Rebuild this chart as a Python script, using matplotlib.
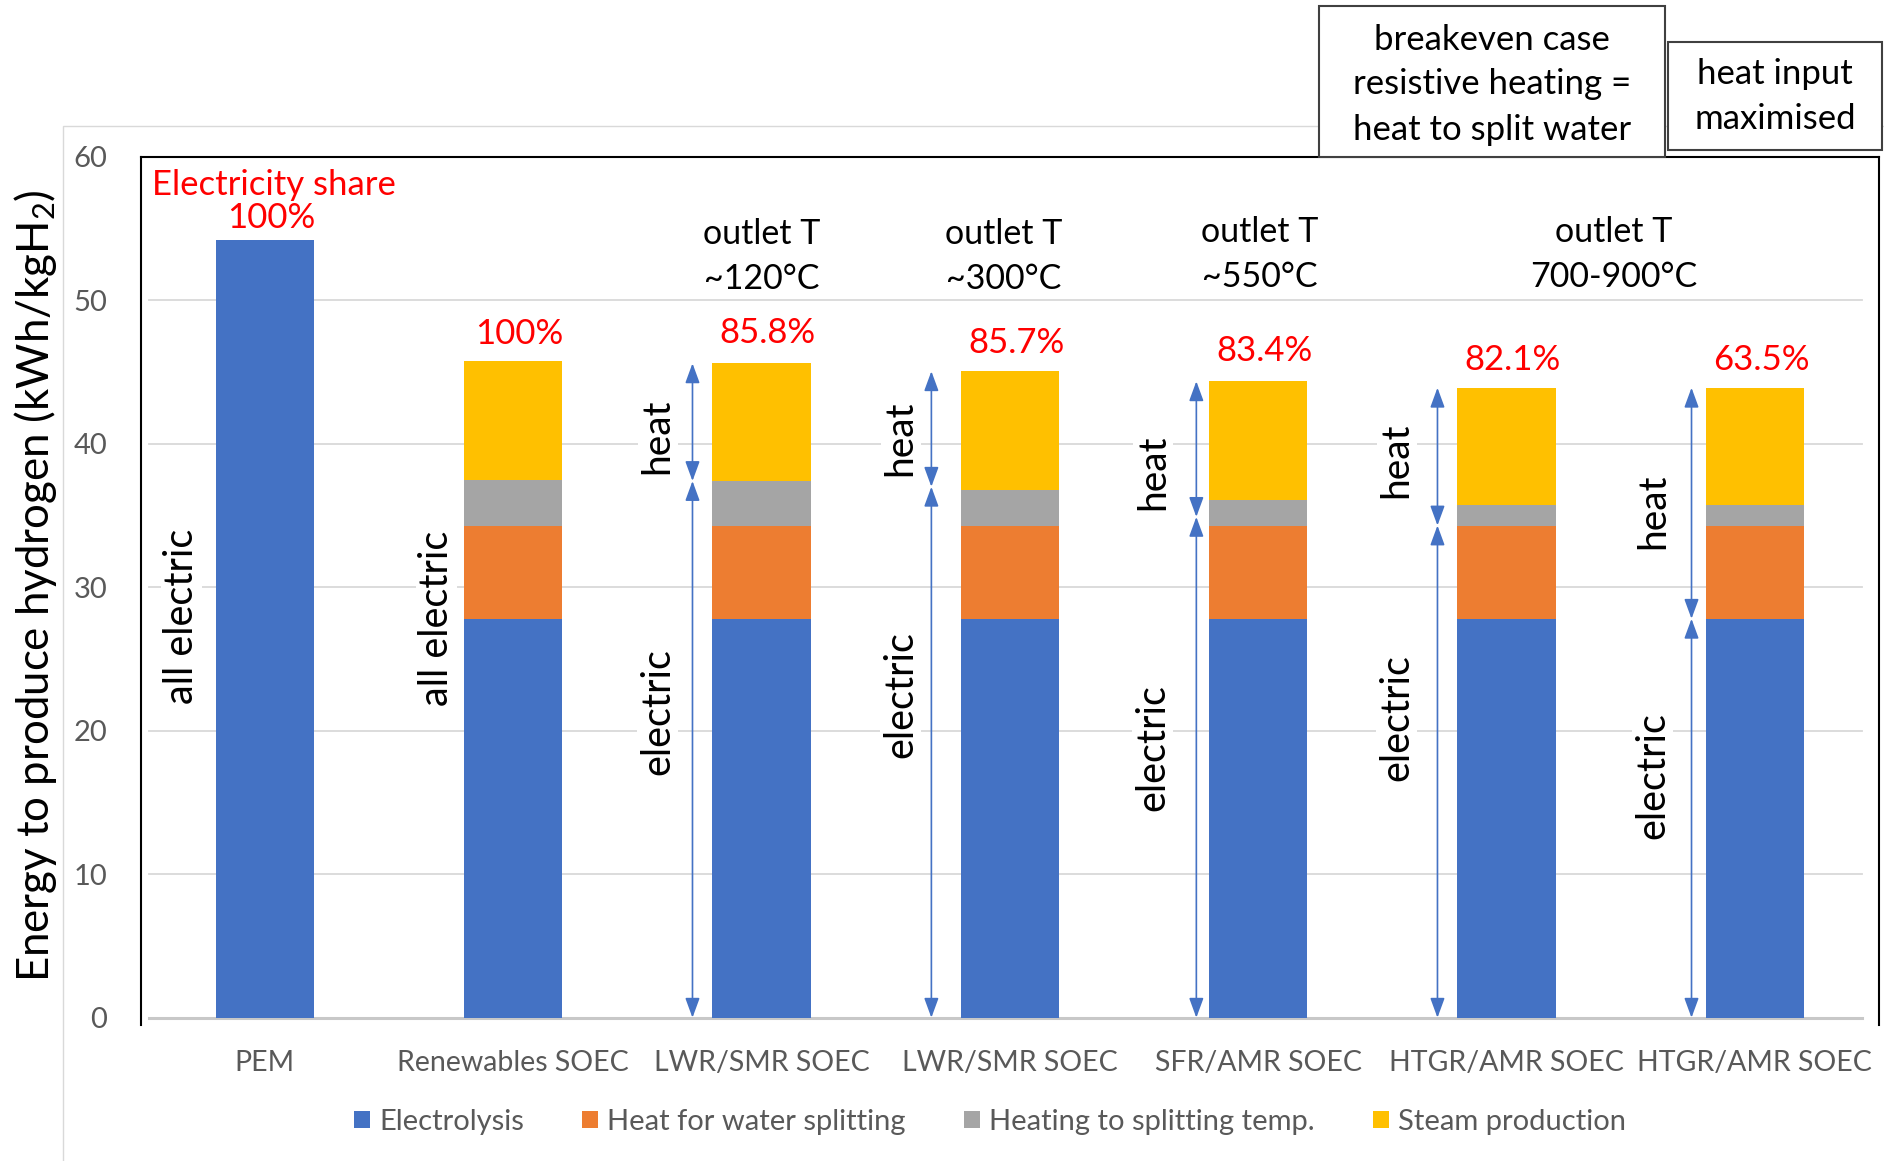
import matplotlib
matplotlib.use("Agg")
import matplotlib.pyplot as plt
from matplotlib.patches import Rectangle, Patch
import numpy as np

plt.rcParams["font.family"] = ["Lato", "DejaVu Sans"]
plt.rcParams["mathtext.default"] = "regular"

# ---- data (kWh per kg H2) ----
categories = ["PEM", "Renewables SOEC", "LWR/SMR SOEC", "LWR/SMR SOEC",
              "SFR/AMR SOEC", "HTGR/AMR SOEC", "HTGR/AMR SOEC"]
electrolysis = [54.2, 27.8, 27.8, 27.8, 27.8, 27.8, 27.8]
water_splitting_heat = [0.0, 6.5, 6.5, 6.5, 6.5, 6.5, 6.5]
heating_to_temp = [0.0, 3.15, 3.1, 2.45, 1.75, 1.4, 1.4]
steam_production = [0.0, 8.3, 8.2, 8.3, 8.3, 8.2, 8.2]
electricity_share = [100, 100, 85.8, 85.7, 83.4, 82.1, 63.5]

# heat / electric split shown by the arrows (bars 2..6)
arrow_bars = [2, 3, 4, 5, 6]
heat_electric_split = [37.4, 37.0, 34.9, 34.3, 27.8]

outlet_labels = ["outlet T\n~120°C", "outlet T\n~300°C", "outlet T\n~550°C",
                 "outlet T\n700-900°C"]
series_names = ["Electrolysis", "Heat for water splitting",
                "Heating to splitting temp.", "Steam production"]
yticks = [0, 10, 20, 30, 40, 50, 60]

# ---- styling / layout ----
colors = ["#4472C4", "#ED7D31", "#A5A5A5", "#FFC000"]
red = "#FF0000"
tick_grey = "#595959"
arrow_blue = "#4472C4"
white_box = dict(facecolor="white", edgecolor="none", pad=1.5)

W, H = 1884, 1161
fig = plt.figure(figsize=(W / 100, H / 100), dpi=100)

ax = fig.add_axes([140.7 / W, (H - 1024.9) / H, (1879 - 140.7) / W, 868.2 / H])
ax.set_xlim(-0.5, 6.5)
ax.set_ylim(-0.5, 60)

# frame: left, top, right only
for side in ("left", "top", "right"):
    ax.spines[side].set_color("black")
    ax.spines[side].set_linewidth(1.5)
ax.spines["bottom"].set_visible(False)

# gridlines
for t in yticks[1:-1]:
    ax.axhline(t, color="#d9d9d9", lw=1.3, xmin=0.005, xmax=0.99, zorder=0)
ax.axhline(0, color="#c8c8c8", lw=2.2, xmin=0.005, xmax=0.99, zorder=0.5)

x = np.arange(len(categories))
series = [electrolysis, water_splitting_heat, heating_to_temp, steam_production]
bottom = np.zeros(len(categories))
for vals, col, name in zip(series, colors, series_names):
    vals = np.asarray(vals)
    ax.bar(x, vals, width=0.395, bottom=bottom, color=col, label=name,
           zorder=2, linewidth=0)
    bottom = bottom + vals
totals = bottom

ax.set_yticks(yticks)
ax.set_xticks(x)
ax.set_xticklabels(categories)
ax.tick_params(axis="y", length=0, pad=24, labelcolor=tick_grey, labelsize=21)
ax.tick_params(axis="x", length=0, pad=18, labelcolor=tick_grey, labelsize=20.5)

# electricity share labels
share_gap = [1.5, 1.9, 2.1, 2.0, 2.1, 1.9, 1.9]
for xi, tot, share, gap in zip(x, totals, electricity_share, share_gap):
    ax.text(xi + 0.025, tot + gap, f"{share:g}%", color=red, fontsize=25,
            ha="center", va="center", zorder=4, bbox=white_box)
ax.text(-0.455, 58.0, "Electricity share", color=red, fontsize=25,
        ha="left", va="center", zorder=4)

# outlet temperature labels
outlet_x = [2.0, 2.976, 4.007, 5.43]
outlet_y = [53.05, 53.05, 53.2, 53.2]
for lx, ly, lab in zip(outlet_x, outlet_y, outlet_labels):
    ax.text(lx, ly, lab, fontsize=24.5, ha="center", va="center",
            linespacing=1.5, zorder=4, bbox=white_box)

# "all electric" labels
for lx, ly in [(-0.334, 28.0), (0.692, 27.8)]:
    ax.text(lx, ly, "all electric", rotation=90, fontsize=28.5,
            ha="center", va="center", zorder=4, bbox=white_box)

# heat / electric arrows
arrow_dx = [-0.278, -0.316, -0.249, -0.278, -0.255]
label_dx = [-0.418, -0.44, -0.424, -0.442, -0.411]
heat_label_y = [40.5, 40.4, 38.0, 38.85, 35.3]
elec_label_y = [21.35, 22.5, 18.8, 20.9, 16.9]
arrow_style = dict(arrowstyle="<|-|>,head_length=0.6,head_width=0.22",
                   color=arrow_blue, lw=1.2, shrinkA=0, shrinkB=0,
                   mutation_scale=20)
for i, b in enumerate(arrow_bars):
    ax_ = b + arrow_dx[i]
    split = heat_electric_split[i]
    ax.annotate("", xy=(ax_, totals[b]), xytext=(ax_, split),
                arrowprops=arrow_style, zorder=3)
    ax.annotate("", xy=(ax_, 0), xytext=(ax_, split),
                arrowprops=arrow_style, zorder=3)
    ax.text(b + label_dx[i], heat_label_y[i], "heat", rotation=90,
            fontsize=28, ha="center", va="center", zorder=4, bbox=white_box)
    ax.text(b + label_dx[i], elec_label_y[i], "electric", rotation=90,
            fontsize=28.5, ha="center", va="center", zorder=4, bbox=white_box)

# y axis title
fig.text(36 / W, 1 - 585.7 / H, "Energy to produce hydrogen (kWh/kgH$_2$)",
         rotation=90, fontsize=31.5, ha="center", va="center")

# chart area border
fig.add_artist(Rectangle((62.5 / W, -0.05), 1.1, (H - 126) / H + 0.05,
                         transform=fig.transFigure, fill=False,
                         edgecolor="#d9d9d9", lw=1.0, zorder=0))


def fig_box(x0, y0, x1, y1, text, cx, cy):
    fig.add_artist(Rectangle((x0 / W, 1 - y1 / H), (x1 - x0) / W, (y1 - y0) / H,
                             transform=fig.transFigure, facecolor="white",
                             edgecolor="#404040", lw=1.5, zorder=5))
    fig.text(cx / W, 1 - cy / H, text, fontsize=25, ha="center", va="center",
             linespacing=1.5, zorder=6)


fig_box(1319, 6, 1665, 157,
        "breakeven case\nresistive heating =\nheat to split water", 1492, 84.5)
fig_box(1668, 42, 1882, 150, "heat input\nmaximised", 1775, 96.7)

# legend
handles = [Patch(facecolor=c, edgecolor="none") for c in colors]
leg = fig.legend(handles, series_names, loc="center", ncol=4,
                 bbox_to_anchor=(990 / W, 1 - 1122 / H), frameon=False,
                 fontsize=21, handlelength=0.55, handleheight=0.55,
                 handletextpad=0.3, columnspacing=2.0)
for t in leg.get_texts():
    t.set_color(tick_grey)

fig.savefig("out.png", dpi=100)
